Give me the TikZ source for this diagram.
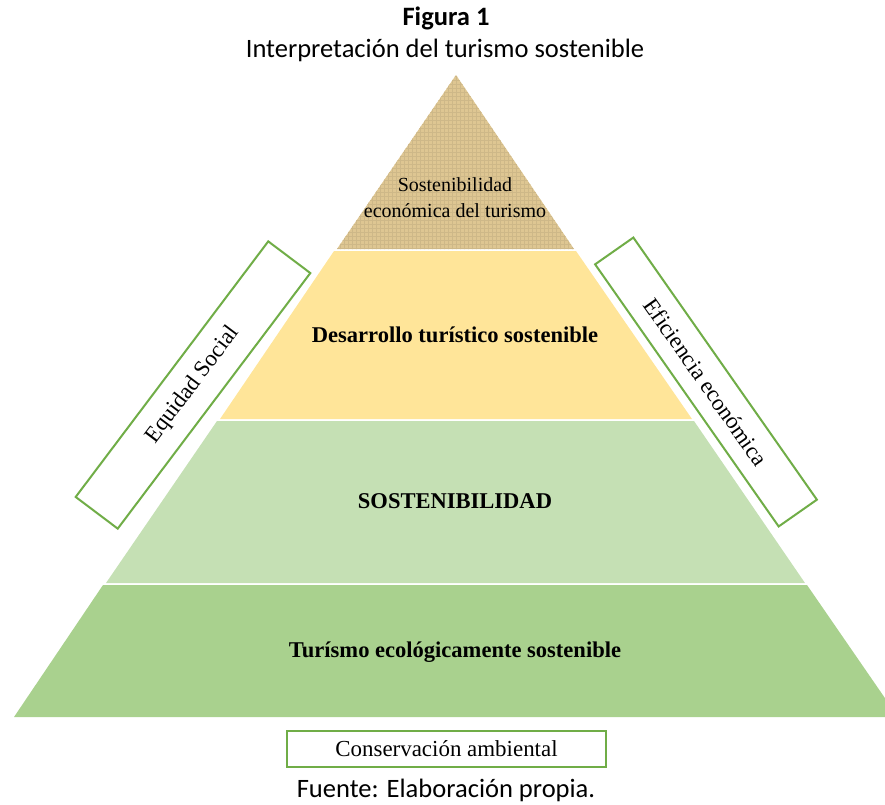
\documentclass[tikz,border=0pt]{standalone}
\usepackage{fontspec}
\setmainfont{Liberation Serif}
\newfontfamily\calibri{Carlito}
\usetikzlibrary{patterns}

\definecolor{papiro}{RGB}{222,198,146}
\definecolor{amarillo}{RGB}{255,229,153}
\definecolor{verdeclaro}{RGB}{197,224,180}
\definecolor{verde}{RGB}{169,209,142}
\definecolor{borde}{RGB}{112,173,71}

\begin{document}
\begin{tikzpicture}[x=0.75pt, y=-0.75pt,
        caja/.style={draw=borde, line width=1.5pt, fill=white, inner sep=0pt, font=\fontsize{17.2}{20}\selectfont},
        nivel/.style={anchor=base, font=\fontsize{16.9}{20}\selectfont\bfseries},
        leyenda/.style={anchor=base, font=\calibri\fontsize{19.9}{24}\selectfont}]
        \useasboundingbox (0, 0) rectangle (885, 804);

        % titulo y fuente
        \node[leyenda, font=\calibri\fontsize{19.9}{24}\selectfont\bfseries] (fig) at (446, 25) {Figura 1};
        \node[leyenda] (titulo) at (445, 57) {Interpretación del turismo sostenible};
        \node[leyenda] (fuente) at (446, 797) {Fuente: Elaboración propia.};

        % niveles de la piramide
        \begin{scope}
            \clip (0, 0) rectangle (885, 804);
            \fill[papiro] (456, 75) -- (574, 249) -- (337, 249) -- cycle;
            \fill[pattern=grid, pattern color=papiro!93!black] (456, 75) -- (574, 249) -- (337, 249) -- cycle;
            \fill[amarillo] (334, 251) -- (576, 251) -- (692, 419) -- (220, 419) -- cycle;
            \fill[verdeclaro] (217, 421) -- (694, 421) -- (805, 583) -- (106, 583) -- cycle;
            \fill[verde] (103, 585) -- (807, 585) -- (898, 717) -- (14, 717) -- cycle;
        \end{scope}

        \node[anchor=base, font=\fontsize{15}{18}\selectfont] (eco) at (455, 191) {Sostenibilidad};
        \node[anchor=base, font=\fontsize{15}{18}\selectfont] (eco2) at (455, 217) {económica del turismo};
        \node[nivel] (desarrollo) at (455, 342) {Desarrollo turístico sostenible};
        \node[nivel] (sost) at (455, 508) {SOSTENIBILIDAD};
        \node[nivel] (turismo) at (455, 657) {Turísmo ecológicamente sostenible};

        % cajas laterales
        \node[caja, rotate=53, minimum width=240pt, minimum height=39.5pt] (equidad) at (193, 385) {Equidad Social};
        \node[caja, rotate=-55, minimum width=240pt, minimum height=35pt] (eficiencia) at (706, 382) {Eficiencia económica};
        \node[caja, minimum width=239pt, minimum height=27pt] (conservacion) at (446.5, 749) {Conservación ambiental};
\end{tikzpicture}
\end{document}
